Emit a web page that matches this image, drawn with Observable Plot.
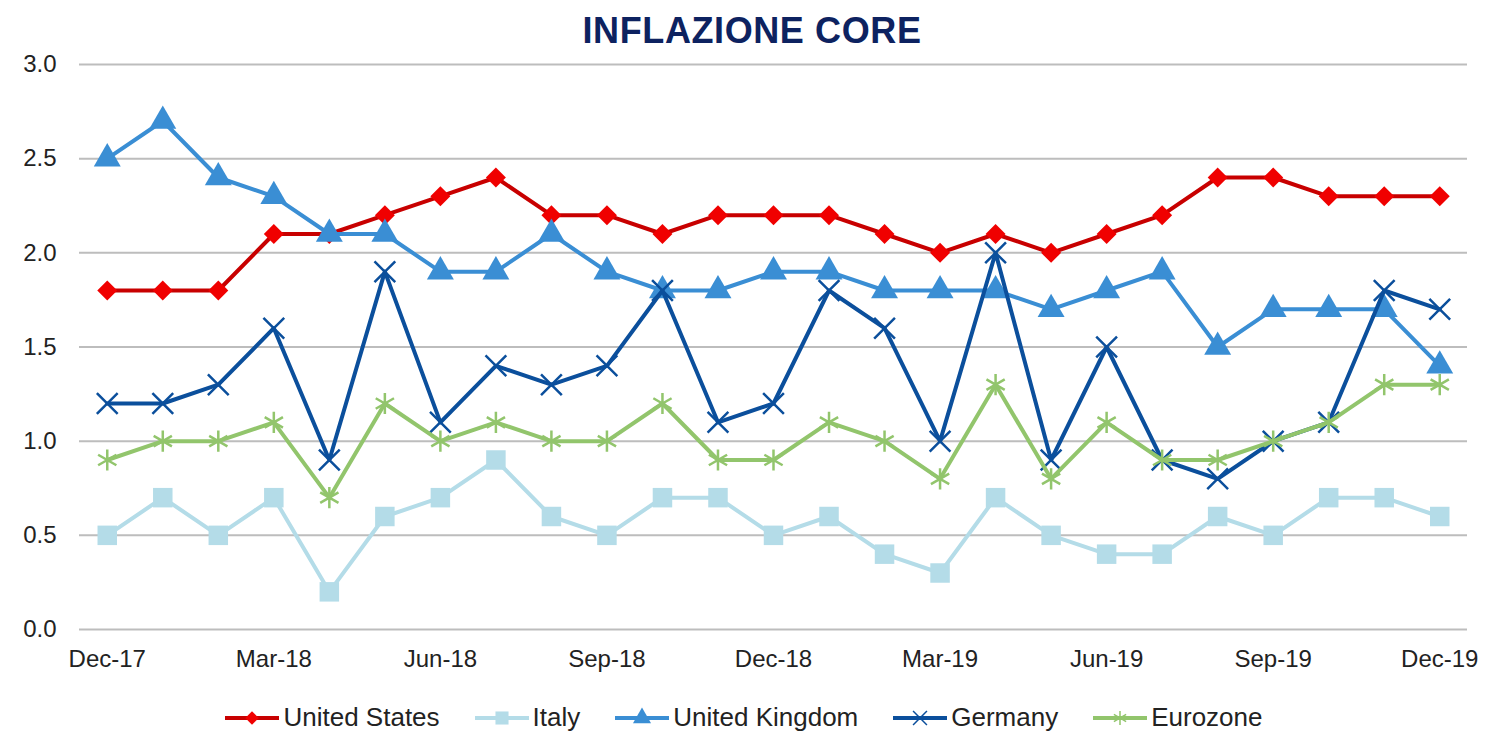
<!DOCTYPE html>
<html>
<head>
<meta charset="utf-8">
<script src="https://cdn.jsdelivr.net/npm/d3@7"></script>
<script src="https://cdn.jsdelivr.net/npm/@observablehq/plot@0.6"></script>
<style>
  html, body { margin: 0; padding: 0; background: #fff; }
  body { width: 1488px; height: 731px; overflow: hidden; font-family: "Liberation Sans", Arial, sans-serif; }
  #title { height: 50px; line-height: 62px; text-align: center; font-weight: bold; font-size: 36px; letter-spacing: 0.6px; color: #0d2260; padding-left: 16px; }
  #legend { display: flex; justify-content: center; gap: 35px; font-size: 26px; color: #222; margin-top: 12px; }
  #legend .item { display: flex; align-items: center; }
  #legend svg { margin-right: 4px; }
</style>
</head>
<body>
<div id="title">INFLAZIONE CORE</div>
<div id="chart"></div>
<div id="legend"></div>
<script>
const months = ["Dec-17","Jan-18","Feb-18","Mar-18","Apr-18","May-18","Jun-18","Jul-18","Aug-18","Sep-18","Oct-18","Nov-18","Dec-18","Jan-19","Feb-19","Mar-19","Apr-19","May-19","Jun-19","Jul-19","Aug-19","Sep-19","Oct-19","Nov-19","Dec-19"];
const unitedStates = [1.8,1.8,1.8,2.1,2.1,2.2,2.3,2.4,2.2,2.2,2.1,2.2,2.2,2.2,2.1,2.0,2.1,2.0,2.1,2.2,2.4,2.4,2.3,2.3,2.3];
const italy = [0.5,0.7,0.5,0.7,0.2,0.6,0.7,0.9,0.6,0.5,0.7,0.7,0.5,0.6,0.4,0.3,0.7,0.5,0.4,0.4,0.6,0.5,0.7,0.7,0.6];
const unitedKingdom = [2.5,2.7,2.4,2.3,2.1,2.1,1.9,1.9,2.1,1.9,1.8,1.8,1.9,1.9,1.8,1.8,1.8,1.7,1.8,1.9,1.5,1.7,1.7,1.7,1.4];
const germany = [1.2,1.2,1.3,1.6,0.9,1.9,1.1,1.4,1.3,1.4,1.8,1.1,1.2,1.8,1.6,1.0,2.0,0.9,1.5,0.9,0.8,1.0,1.1,1.8,1.7];
const eurozone = [0.9,1.0,1.0,1.1,0.7,1.2,1.0,1.1,1.0,1.0,1.2,0.9,0.9,1.1,1.0,0.8,1.3,0.8,1.1,0.9,0.9,1.0,1.1,1.3,1.3];
const yTicks = [0,0.5,1.0,1.5,2.0,2.5,3.0];
const xTickIdx = [0,3,6,9,12,15,18,21,24];

const series = [
  {name: "United States", values: unitedStates, color: "#c80000", mark: "#f00000", symbol: "diamond2", r: 9, filled: true},
  {name: "Italy", values: italy, color: "#b4dce8", mark: "#b4dce8", symbol: "square", r: 11, filled: true},
  {name: "United Kingdom", values: unitedKingdom, color: "#3a8ed4", mark: "#3a8ed4", symbol: "triangle", r: 10, filled: true},
  {name: "Germany", values: germany, color: "#0b4f9c", mark: "#0b4f9c", symbol: "times", r: 9.5, filled: false},
  {name: "Eurozone", values: eurozone, color: "#92c56c", mark: "#92c56c", symbol: "asterisk", r: 10, filled: false}
];

const marks = [
  Plot.ruleY(yTicks, {stroke: "#bdbdbd", strokeWidth: 2}),
  Plot.axisX({ticks: xTickIdx, tickFormat: i => months[i], tickSize: 0, tickPadding: 20, fontSize: 24, label: null}),
  Plot.axisY({ticks: yTicks, tickFormat: d3.format(".1f"), tickSize: 0, tickPadding: 23, fontSize: 24, label: null})
];
for (const s of series) {
  const data = s.values.map((v, i) => ({i, v}));
  marks.push(Plot.line(data, {x: "i", y: "v", stroke: s.color, strokeWidth: 4}));
  if (s.filled) {
    marks.push(Plot.dot(data, {x: "i", y: "v", symbol: s.symbol, r: s.r, fill: s.mark, stroke: "none"}));
  } else {
    marks.push(Plot.dot(data, {x: "i", y: "v", symbol: s.symbol, r: s.r, stroke: s.mark, strokeWidth: 2.5, fill: "none"}));
  }
}

const chart = Plot.plot({
  width: 1488,
  height: 640,
  marginTop: 14,
  marginBottom: 61,
  marginLeft: 79,
  marginRight: 21,
  style: {fontFamily: "Liberation Sans, Arial, sans-serif", color: "#222", background: "#fff"},
  x: {type: "linear", domain: [-0.5, 24.5]},
  y: {domain: [0, 3]},
  marks
});
document.getElementById("chart").appendChild(chart);

const legend = document.getElementById("legend");
const symMap = {diamond2: d3.symbolDiamond2, square: d3.symbolSquare, triangle: d3.symbolTriangle, times: d3.symbolTimes, asterisk: d3.symbolAsterisk};
for (const s of series) {
  const item = document.createElement("div");
  item.className = "item";
  const svg = d3.create("svg").attr("width", 54).attr("height", 26);
  svg.append("line").attr("x1", 0).attr("x2", 54).attr("y1", 13).attr("y2", 13).attr("stroke", s.color).attr("stroke-width", 4);
  const sym = d3.symbol(symMap[s.symbol], Math.PI * s.r * s.r * 0.45);
  const p = svg.append("path").attr("d", sym()).attr("transform", "translate(27,13)");
  if (s.filled) p.attr("fill", s.mark); else p.attr("fill", "none").attr("stroke", s.mark).attr("stroke-width", 1.5);
  item.appendChild(svg.node());
  const t = document.createElement("span");
  t.textContent = s.name;
  item.appendChild(t);
  legend.appendChild(item);
}
</script>
</body>
</html>
